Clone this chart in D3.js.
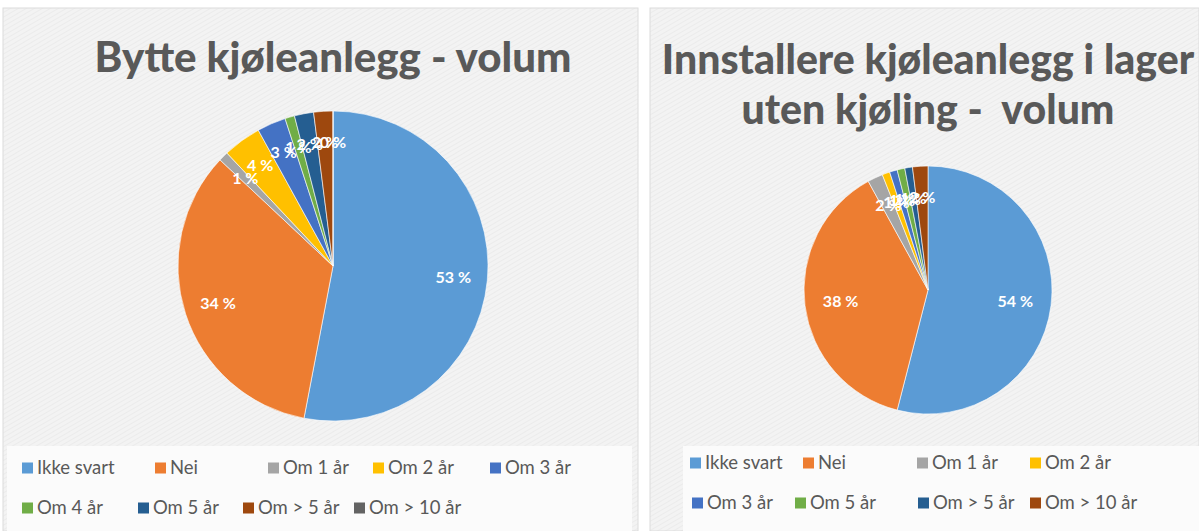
<!DOCTYPE html>
<html>
<head>
<meta charset="utf-8">
<script src="https://cdn.jsdelivr.net/npm/d3@7"></script>
<style>
  body { margin: 0; background: #fff; }
  svg { display: block; font-family: Lato, "Open Sans", sans-serif; }
  text { white-space: pre; }
</style>
</head>
<body>
<svg id="chart" width="1199" height="531"></svg>
<script>
// left chart data
const leftCats = ["Ikke svart", "Nei", "Om 1 år", "Om 2 år", "Om 3 år", "Om 4 år", "Om 5 år", "Om > 5 år", "Om > 10 år"];
const leftVals = [53, 34, 1, 4, 3, 1, 2, 2, 0];
const leftTitle = ["Bytte kjøleanlegg - volum"];

// right chart data
const rightCats = ["Ikke svart", "Nei", "Om 1 år", "Om 2 år", "Om 3 år", "Om 5 år", "Om > 5 år", "Om > 10 år"];
const rightVals = [54, 38, 2, 1, 1, 1, 1, 2];
const rightTitle = ["Innstallere kjøleanlegg i lager", "uten kjøling -  volum"];

const officeColors = ["#5B9BD5", "#ED7D31", "#A5A5A5", "#FFC000", "#4472C4", "#70AD47", "#255E91", "#9E480E", "#636363"];

const svg = d3.select("#chart");

// hatch background like the Excel chart style
const defs = svg.append("defs");
const pat = defs.append("pattern")
  .attr("id", "hatch")
  .attr("width", 4).attr("height", 4)
  .attr("patternUnits", "userSpaceOnUse")
  .attr("patternTransform", "rotate(60)");
pat.append("rect").attr("width", 4).attr("height", 4).attr("fill", "#f3f3f3");
pat.append("line").attr("x1", 0).attr("y1", 0).attr("x2", 0).attr("y2", 4)
  .attr("stroke", "#e9e9e9").attr("stroke-width", 1.5);

function drawPanel(cfg) {
  const g = svg.append("g");

  g.append("rect")
    .attr("x", cfg.x0).attr("y", 8)
    .attr("width", cfg.w).attr("height", 531 - 8)
    .attr("fill", "url(#hatch)")
    .attr("stroke", "#dcdcdc");

  // legend box (lighter)
  g.append("rect")
    .attr("x", cfg.legX).attr("y", 446)
    .attr("width", cfg.legW).attr("height", 85)
    .attr("fill", "#fbfbfb");

  // title
  g.append("text")
    .attr("text-anchor", "middle")
    .attr("font-weight", 900)
    .attr("font-size", cfg.titleSize)
    .attr("fill", "#595959")
    .selectAll("tspan")
    .data(cfg.title)
    .join("tspan")
    .attr("x", cfg.titleX)
    .attr("y", (d, i) => cfg.titleY + i * 50)
    .text(d => d);

  const color = d3.scaleOrdinal().domain(cfg.cats).range(officeColors);
  const pie = d3.pie().sort(null).value(d => d.v);
  const data = cfg.cats.map((c, i) => ({ c: c, v: cfg.vals[i] }));
  const arcs = pie(data);
  const arc = d3.arc().innerRadius(0).outerRadius(cfg.r);
  const labelArc = d3.arc().innerRadius(cfg.r * cfg.lab).outerRadius(cfg.r * cfg.lab);
  const smallArc = d3.arc().innerRadius(cfg.r * cfg.labSmall).outerRadius(cfg.r * cfg.labSmall);

  const pg = g.append("g").attr("transform", `translate(${cfg.cx},${cfg.cy})`);
  pg.selectAll("path")
    .data(arcs)
    .join("path")
    .attr("d", arc)
    .attr("fill", d => color(d.data.c))
    .attr("stroke", "#fff")
    .attr("stroke-width", 0.6);

  pg.selectAll("text")
    .data(arcs)
    .join("text")
    .attr("transform", d => `translate(${(d.data.v >= 10 ? labelArc : smallArc).centroid(d)})`)
    .attr("text-anchor", "middle")
    .attr("dy", "0.35em")
    .attr("font-size", 16)
    .attr("font-weight", "bold")
    .attr("fill", "#fff")
    .text(d => d.data.v + " %");

  // legend
  const leg = g.selectAll("g.leg")
    .data(data)
    .join("g")
    .attr("class", "leg")
    .attr("transform", (d, i) => `translate(${cfg.legPos[i][0]},${cfg.legPos[i][1]})`);
  leg.append("rect")
    .attr("x", 0).attr("y", -5.5)
    .attr("width", 11).attr("height", 11)
    .attr("fill", d => color(d.c));
  leg.append("text")
    .attr("x", 15).attr("dy", "0.35em")
    .attr("font-size", 18.5)
    .attr("fill", "#595959")
    .text(d => d.c);
}

drawPanel({
  x0: 3, w: 635, legX: 7, legW: 625,
  title: leftTitle, titleX: 333, titleY: 72, titleSize: 42,
  cats: leftCats, vals: leftVals,
  cx: 333, cy: 266, r: 155, lab: 0.78, labSmall: 0.8,
  legPos: [[22, 468], [155, 468], [268, 468], [373, 468], [490, 468],
           [22, 508], [138, 508], [243, 508], [354, 508]]
});

drawPanel({
  x0: 650, w: 549, legX: 683, legW: 516,
  title: rightTitle, titleX: 928, titleY: 74, titleSize: 41,
  cats: rightCats, vals: rightVals,
  cx: 928, cy: 290, r: 124, lab: 0.71, labSmall: 0.75,
  legPos: [[690, 463], [803, 463], [917, 463], [1030, 463],
           [692, 503], [795, 503], [918, 503], [1030, 503]]
});
</script>
</body>
</html>
